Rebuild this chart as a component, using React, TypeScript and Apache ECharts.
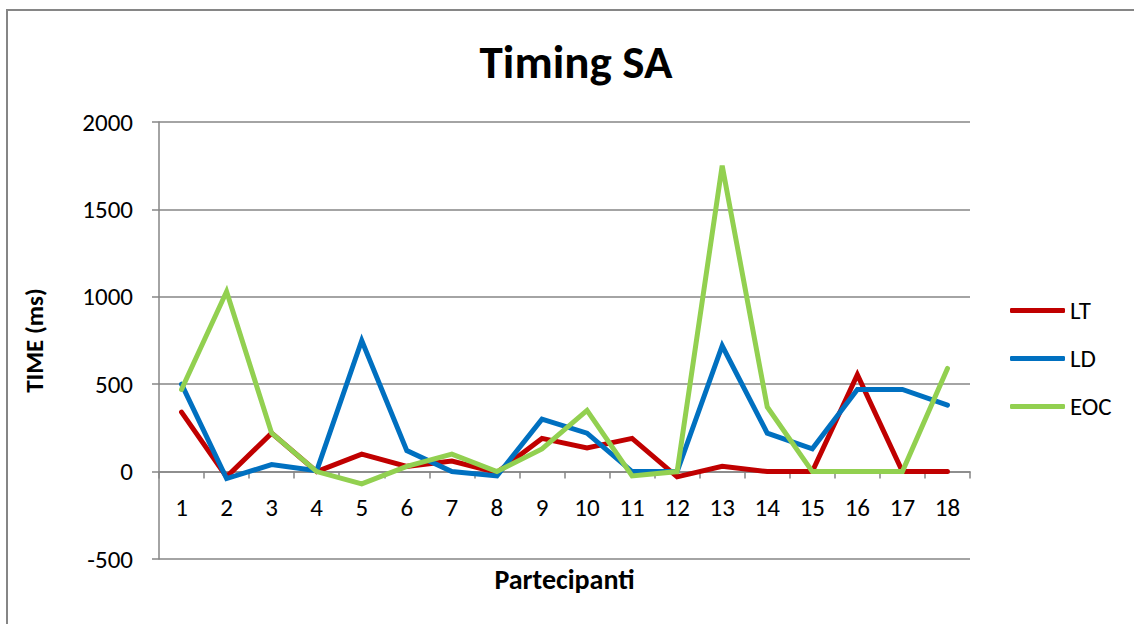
import React, { useEffect, useRef } from "react";
import * as echarts from "echarts";

const categories = ["1","2","3","4","5","6","7","8","9","10","11","12","13","14","15","16","17","18"];
const ltValues = [340, -30, 220, 0, 100, 30, 60, -5, 190, 135, 190, -30, 30, 0, 0, 555, 0, 0];
const ldValues = [500, -40, 40, 5, 750, 120, 0, -25, 300, 220, 0, 0, 720, 220, 130, 470, 470, 380];
const eocValues = [470, 1030, 220, 0, -70, 30, 100, 0, 130, 350, -25, 0, 1750, 370, 0, 0, 0, 590];
const seriesNames = ["LT", "LD", "EOC"];
const seriesColors = ["#C00000", "#0070C0", "#92D050"];
const yTicks = { min: -500, max: 2000, interval: 500 };

const FONT = "Carlito, Lato, 'Open Sans', sans-serif";

const GRID_TOP = 122;
const GRID_BOTTOM = 65;
const PLOT_H = 624 - GRID_TOP - GRID_BOTTOM;

export default function App() {
  const ref = useRef<HTMLDivElement>(null);
  useEffect(() => {
    if (!ref.current) return;
    const chart = echarts.init(ref.current, null, { renderer: "svg" });
    const data = [ltValues, ldValues, eocValues];
    // offset that moves the category axis up to the value 0 of the y axis
    const zeroOffset = -PLOT_H * (0 - yTicks.min) / (yTicks.max - yTicks.min);
    chart.setOption({
      animation: false,
      backgroundColor: "#ffffff",
      title: {
        text: "Timing SA",
        left: 571,
        top: 33,
        textAlign: "center",
        textStyle: { fontFamily: FONT, fontWeight: "bold", fontSize: 47, color: "#000" },
      },
      graphic: [
        {
          type: "rect",
          shape: { x: 7, y: 10, width: 1150, height: 650 },
          style: { fill: "none", stroke: "#868686", lineWidth: 2 },
          silent: true,
        },
      ],
      legend: {
        orient: "vertical",
        left: 1005,
        top: 293,
        itemWidth: 55,
        itemHeight: 5,
        itemGap: 23,
        icon: "roundRect",
        textStyle: { fontFamily: FONT, fontSize: 25, lineHeight: 25, color: "#000" },
        data: seriesNames,
      },
      grid: { left: 159, right: 164, top: GRID_TOP, bottom: GRID_BOTTOM, containLabel: false, outerBoundsMode: "none" },
      xAxis: {
        type: "category",
        data: categories,
        boundaryGap: true,
        offset: zeroOffset,
        name: "Partecipanti",
        nameLocation: "middle",
        nameGap: 94,
        nameTextStyle: { fontFamily: FONT, fontWeight: "bold", fontSize: 28, color: "#000" },
        axisLine: { onZero: false, lineStyle: { color: "#868686", width: 1.5 } },
        axisTick: { show: true, length: 7, lineStyle: { color: "#868686", width: 1.5 } },
        axisLabel: { fontFamily: FONT, fontSize: 25, color: "#000", margin: 23 },
        splitLine: { show: false },
      },
      yAxis: {
        type: "value",
        min: yTicks.min,
        max: yTicks.max,
        interval: yTicks.interval,
        name: "TIME (ms)",
        nameLocation: "middle",
        nameGap: 112,
        nameRotate: 90,
        nameTextStyle: { fontFamily: FONT, fontWeight: "bold", fontSize: 25, color: "#000" },
        axisLine: { show: true, lineStyle: { color: "#868686", width: 1.5 } },
        axisTick: { show: true, length: 7, lineStyle: { color: "#868686", width: 1.5 } },
        axisLabel: { fontFamily: FONT, fontSize: 25, color: "#000", margin: 26, formatter: (v: number) => String(v) },
        splitLine: { show: true, lineStyle: { color: "#868686", width: 1.5 } },
      },
      series: seriesNames.map((name, i) => ({
        name,
        type: "line",
        data: data[i],
        symbol: "none",
        color: seriesColors[i],
        lineStyle: { color: seriesColors[i], width: 5, cap: "round", join: "miter" },
        z: 2 + i,
      })),
    });
    return () => chart.dispose();
  }, []);
  return (
    <div
      ref={ref}
      style={{ position: "fixed", left: 0, top: 0, width: 1134, height: 624 }}
    />
  );
}
